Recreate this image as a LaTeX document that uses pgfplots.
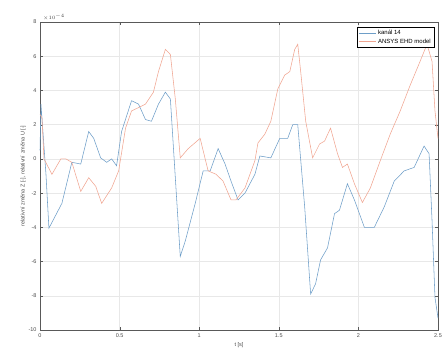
\documentclass[border=0pt]{standalone}
\usepackage{fontspec}
\setmainfont{Liberation Sans}
\usepackage{pgfplots}
\pgfplotsset{compat=1.18}
\definecolor{mblue}{RGB}{110,158,200}
\definecolor{mred}{RGB}{240,165,145}
\begin{document}
\begin{tikzpicture}[x=1pt,y=1pt]
\path[use as bounding box] (0,0) rectangle (445,360);
\begin{axis}[
  at={(40pt,30pt)}, anchor=south west,
  scale only axis, width=398pt, height=308pt,
  xmin=0, xmax=2.5, ymin=-10, ymax=8,
  clip=false,
  xtick={0,0.5,1,1.5,2,2.5},
  ytick={-10,-8,-6,-4,-2,0,2,4,6,8},
  xticklabels={0,0.5,1,1.5,2,2.5},
  grid=major, major grid style={gray!18, line width=0.4pt},
  axis line style={gray!70!black, line width=0.5pt},
  tick style={gray!70!black},
  tick align=inside, major tick length=3pt,
  xtick pos=both, ytick pos=both,
  ticklabel style={font=\fontsize{5.5}{6}\selectfont, text=gray!60!black},
  /pgf/number format/assume math mode=true,
  xlabel={t [s]},
  ylabel={relativní změna Z [-], relativní změna U [-]},
  label style={font=\fontsize{5.5}{6}\selectfont, text=gray!60!black},
  xlabel style={yshift=2pt},
  ylabel style={yshift=-4pt},
  legend style={at={(0.99,0.985)}, anchor=north east, draw=black, line width=0.5pt,
    font=\fontsize{6}{7}\selectfont, inner sep=1pt, row sep=-1pt,
    legend cell align=left},
  legend image post style={line width=0.5pt},
]
\addplot[mblue, line width=0.55pt] coordinates {
(0,0.5) (0.006,3.2) (0.0375,-0.9) (0.056,-4.05) (0.1375,-2.6) (0.2,-0.2)
(0.256,-0.3) (0.306,1.6) (0.3375,1.2) (0.381,0.06) (0.419,-0.2) (0.45,0)
(0.481,-0.4) (0.5125,1.6) (0.575,3.4) (0.619,3.2) (0.6625,2.3) (0.7,2.2)
(0.744,3.2) (0.7875,3.9) (0.819,3.5) (0.85,-1.1) (0.881,-5.7) (0.9125,-4.8)
(0.975,-2.6) (1.025,-0.7) (1.069,-0.7) (1.119,0.6) (1.1625,-0.3) (1.2,-1.3)
(1.244,-2.4) (1.2875,-2.0) (1.35,-0.9) (1.381,0.17) (1.45,0.06) (1.506,1.2)
(1.556,1.2) (1.5875,2.0) (1.619,2.0) (1.6625,-2.8) (1.7,-7.9) (1.731,-7.3)
(1.7625,-5.9) (1.806,-5.2) (1.85,-3.2) (1.881,-3.0) (1.931,-1.45) (1.975,-2.4)
(2.0375,-4.0) (2.1,-4.0) (2.1625,-2.8) (2.225,-1.3) (2.2875,-0.7) (2.35,-0.5)
(2.4125,0.75) (2.444,0.3) (2.4625,-3.6) (2.481,-8.1) (2.5,-9.3)
};
\addlegendentry{kanál 14}
\addplot[mred, line width=0.55pt] coordinates {
(0,2.6) (0.0125,2.4) (0.025,0) (0.075,-0.9) (0.131,0) (0.1625,0) (0.2,-0.2)
(0.256,-1.9) (0.306,-1.1) (0.35,-1.6) (0.3875,-2.6) (0.45,-1.7) (0.494,-0.7)
(0.5375,1.8) (0.575,2.8) (0.619,3.0) (0.6625,3.2) (0.7125,3.9) (0.744,5.1)
(0.7875,6.4) (0.819,6.1) (0.85,3.5) (0.881,0.06) (0.931,0.6) (1.006,1.2)
(1.056,-0.7) (1.106,-0.9) (1.15,-1.3) (1.2,-2.4) (1.231,-2.4) (1.2875,-1.7)
(1.35,-0.1) (1.369,0.93) (1.4125,1.45) (1.45,2.2) (1.494,4.1) (1.5375,4.9)
(1.569,5.1) (1.6,6.4) (1.619,6.7) (1.6375,5.1) (1.669,2.2) (1.7125,0.06)
(1.756,0.87) (1.7875,1.04) (1.825,1.8) (1.869,0.3) (1.9,-0.5) (1.931,-0.3)
(1.975,-1.45) (2.025,-2.55) (2.075,-1.7) (2.1375,-0.1) (2.2,1.45) (2.2625,2.8)
(2.325,4.3) (2.3875,5.7) (2.431,6.7) (2.4625,5.7) (2.481,2.8) (2.5,1.2)
};
\addlegendentry{ANSYS EHD model}
\node[anchor=south west, inner sep=1pt, font=\fontsize{5.5}{6}\selectfont, text=gray!50!black]
  at (rel axis cs:0.005,1) {$\times10^{-4}$};
\end{axis}
\end{tikzpicture}
\end{document}
